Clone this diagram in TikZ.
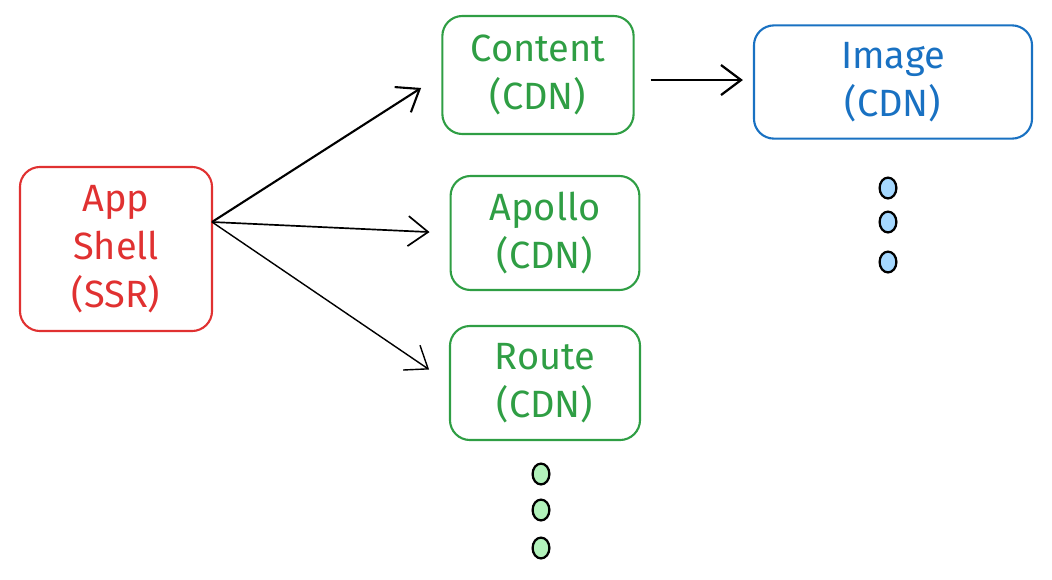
\documentclass[tikz,border=0pt]{standalone}
\usepackage{fontspec}
\setmainfont{Fira Sans}
\usepackage{xcolor}
\usetikzlibrary{arrows.meta,shapes.geometric}

\definecolor{shellred}{HTML}{E03131}
\definecolor{cdngreen}{HTML}{2F9E44}
\definecolor{imgblue}{HTML}{1971C2}
\definecolor{dotgreen}{HTML}{B2F2BB}
\definecolor{dotblue}{HTML}{A5D8FF}

\begin{document}
\begin{tikzpicture}[x=0.025cm, y=-0.025cm,
    box/.style={draw, line width=1.5pt, rounded corners=0.5cm, align=center,
        font=\fontsize{27}{34}\selectfont, inner sep=0pt},
    dot/.style={draw=black, line width=1.6pt, ellipse, minimum width=0.42cm, minimum height=0.52cm, inner sep=0pt},
    link/.style={-{Straight Barb[length=0.5cm, width=0.75cm]}, line width=1.2pt}]
    \useasboundingbox (0,0) rectangle (1052,579);

    % Boxes
    \node[box, shellred, minimum width=4.8cm, minimum height=4.1cm] (shell) at (116,249) {App\\Shell\\(SSR)};
    \node[box, cdngreen, minimum width=4.78cm, minimum height=2.95cm] (content) at (538,75) {Content\\(CDN)};
    \node[box, cdngreen, minimum width=4.72cm, minimum height=2.85cm] (apollo) at (545,233) {Apollo\\(CDN)};
    \node[box, cdngreen, minimum width=4.75cm, minimum height=2.85cm] (route) at (545,383) {Route\\(CDN)};
    \node[box, imgblue, minimum width=6.95cm, minimum height=2.83cm] (image) at (893,82) {Image\\(CDN)};

    % Arrows
    \coordinate (fork) at (212,222);
    \draw[link, line width=1.5pt, shorten >=0.6cm] (fork) -- (content.west);
    \draw[link, shorten >=0.5cm] (fork) -- (apollo.west);
    \draw[link, line width=1pt, shorten >=0.6cm] (fork) -- (route.west);
    \draw[link, line width=1.6pt, shorten <=0.4cm, shorten >=0.25cm] (content.east |- 0,80) -- (image.west |- 0,80);

    % More of them
    \foreach \y in {474, 510, 548} {
        \node[dot, fill=dotgreen] at (541,\y) {};
    }
    \foreach \y in {188, 222, 262} {
        \node[dot, fill=dotblue] at (888,\y) {};
    }
\end{tikzpicture}
\end{document}
